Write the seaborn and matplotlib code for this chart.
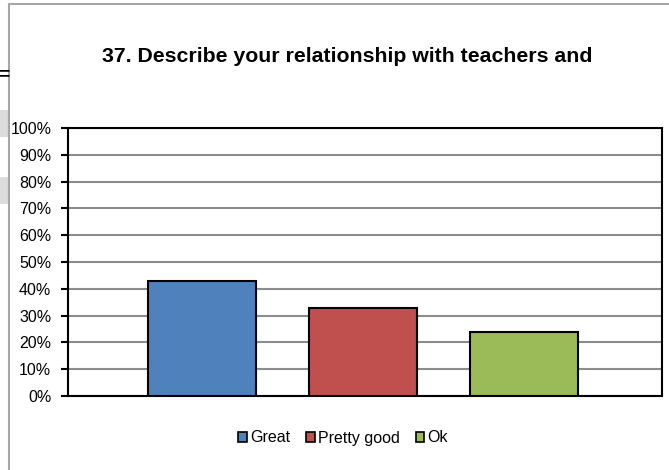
import matplotlib
matplotlib.use("Agg")
import matplotlib.pyplot as plt
from matplotlib.patches import Rectangle
from matplotlib.lines import Line2D
from matplotlib.ticker import MultipleLocator, PercentFormatter
import seaborn as sns
import pandas as pd

# Survey answers and their shares of respondents
answers = ["Great", "Pretty good", "Ok"]
shares = [0.43, 0.33, 0.24]
colors = ["#4F81BD", "#C0504D", "#9BBB59"]
title = "37. Describe your relationship with teachers and"

sns.set_theme(style="white")
plt.rcParams["font.family"] = ["Liberation Sans", "DejaVu Sans"]
plt.rcParams["text.color"] = "black"

fig = plt.figure(figsize=(6.69, 4.70), dpi=100)
ax = fig.add_axes([68 / 669, 74 / 470, 594 / 669, 268 / 470])

df = pd.DataFrame({"answer": answers, "share": shares})
sns.barplot(data=df, x="answer", y="share", hue="answer", palette=colors,
            width=0.67, edgecolor="black", linewidth=1.5, legend=False,
            saturation=1, ax=ax, zorder=3)

ax.set_xlim(-0.832, 2.857)
ax.set_ylim(0, 1.0)
ax.yaxis.set_major_locator(MultipleLocator(0.1))
ax.yaxis.set_major_formatter(PercentFormatter(1.0, decimals=0))
ax.set_xticks([])
ax.set_xlabel("")
ax.set_ylabel("")
ax.grid(axis="y", color="#8c8c8c", linewidth=1.5, zorder=0)
ax.set_axisbelow(True)
for s in ax.spines.values():
    s.set_visible(True)
    s.set_color("black")
    s.set_linewidth(1.5)
ax.tick_params(axis="y", which="major", left=True, length=5, width=1.5,
               color="black", labelsize=11.5, pad=7, labelcolor="black")

fig.text(347.5 / 669, 1 - 62 / 470, title, ha="center", va="baseline",
         fontsize=15.3, fontweight="bold", color="black")

handles = [Rectangle((0, 0), 1, 1, facecolor=c, edgecolor="black", linewidth=1.2)
           for c in colors]
fig.legend(handles, answers, loc="center", bbox_to_anchor=(343 / 669, 1 - 438 / 470),
           ncol=3, frameon=False, fontsize=11.5, handlelength=0.55, handleheight=0.55,
           handletextpad=0.2, columnspacing=1.0, borderpad=0, labelcolor="black")

# outer chart frame and surrounding page fragments
fig.add_artist(Line2D([9 / 669, 9 / 669], [0, 1 - 4 / 470], color="#a6a6a6",
                      linewidth=1.5, transform=fig.transFigure))
fig.add_artist(Line2D([9 / 669, 1], [1 - 4 / 470, 1 - 4 / 470], color="#a6a6a6",
                      linewidth=1.5, transform=fig.transFigure))
for y0, y1 in [(110, 137), (177, 204)]:
    fig.add_artist(Rectangle((0, 1 - y1 / 470), 8 / 669, (y1 - y0) / 470,
                             facecolor="#dcdcdc", edgecolor="none",
                             transform=fig.transFigure))
fig.text(-2 / 669, 1 - 75 / 470, "=", ha="left", va="center", fontsize=14,
         fontweight="bold", color="black")

fig.savefig("out.png", dpi=100)
